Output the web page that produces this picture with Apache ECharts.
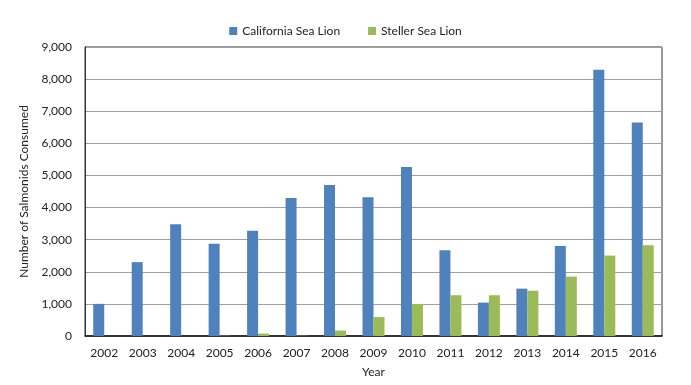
<!DOCTYPE html>
<html>
<head>
<meta charset="utf-8">
<script src="https://cdn.jsdelivr.net/npm/echarts@6/dist/echarts.min.js"></script>
<style>
html,body{margin:0;padding:0;background:#fff;}
#chart{width:691px;height:385px;}
</style>
</head>
<body>
<div id="chart"></div>
<script>
var years = ['2002','2003','2004','2005','2006','2007','2008','2009','2010','2011','2012','2013','2014','2015','2016'];
var californiaSeaLion = [1000, 2300, 3480, 2870, 3280, 4300, 4700, 4320, 5260, 2670, 1040, 1475, 2800, 8290, 6650];
var stellerSeaLion = [0, 0, 0, 10, 75, 10, 170, 590, 1000, 1270, 1270, 1410, 1850, 2505, 2825];

var font = 'Lato, "Open Sans", sans-serif';
var chart = echarts.init(document.getElementById('chart'));
chart.setOption({
  animation: false,
  textStyle: {fontFamily: font},
  legend: {
    top: 20,
    left: 'center',
    itemWidth: 8,
    itemHeight: 8,
    itemGap: 28,
    icon: 'rect',
    textStyle: {fontSize: 12, color: '#222', fontFamily: font},
    data: ['California Sea Lion', 'Steller Sea Lion']
  },
  grid: {
    left: 85, right: 29, top: 47, bottom: 49,
    show: true, borderColor: '#333', borderWidth: 1, backgroundColor: 'transparent'
  },
  xAxis: {
    type: 'category',
    data: years,
    name: 'Year',
    nameLocation: 'middle',
    nameGap: 30,
    nameTextStyle: {fontSize: 12, color: '#222', fontFamily: font},
    axisLine: {lineStyle: {color: '#111', width: 1.5}},
    axisTick: {show: false},
    axisLabel: {fontSize: 12, color: '#222', margin: 11, fontFamily: font}
  },
  yAxis: {
    type: 'value',
    min: 0, max: 9000, interval: 1000,
    name: 'Number of Salmonids Consumed',
    nameLocation: 'middle',
    nameGap: 50,
    nameTextStyle: {fontSize: 12, color: '#222', fontFamily: font},
    axisLine: {show: true, lineStyle: {color: '#333'}},
    axisTick: {show: false},
    splitLine: {lineStyle: {color: '#a0a0a0', width: 1.2}},
    axisLabel: {
      fontSize: 12, color: '#222', margin: 13, fontFamily: font,
      formatter: function (v) { return v.toLocaleString('en-US'); }
    }
  },
  series: [
    {
      name: 'California Sea Lion',
      type: 'bar',
      data: californiaSeaLion,
      barWidth: 11,
      barGap: '0%',
      itemStyle: {color: '#4F81BD'}
    },
    {
      name: 'Steller Sea Lion',
      type: 'bar',
      data: stellerSeaLion,
      barWidth: 11,
      barGap: '0%',
      itemStyle: {color: '#9BBB59'}
    }
  ]
});
</script>
</body>
</html>
